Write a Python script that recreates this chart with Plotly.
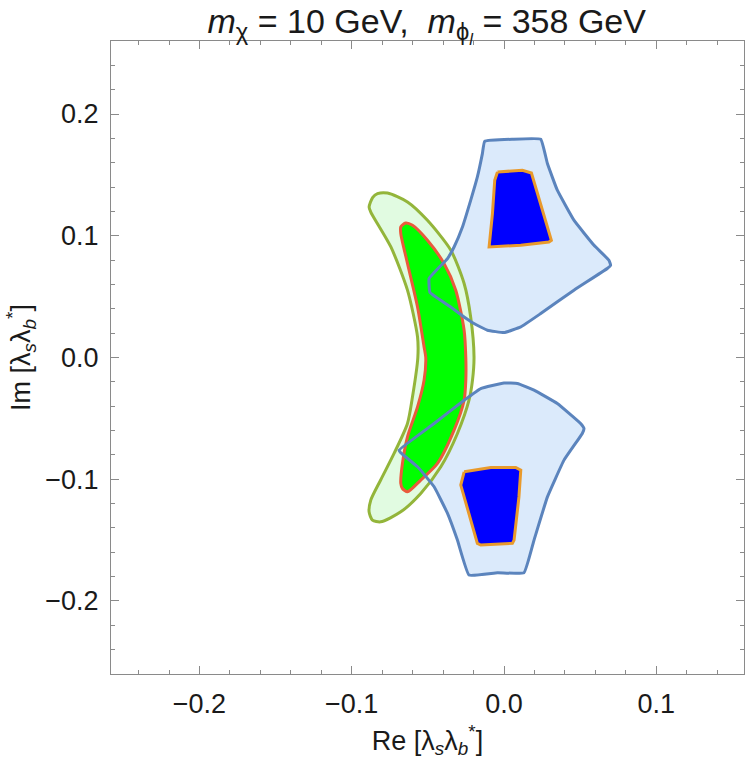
import plotly.graph_objects as go

# ---- data (Re, Im) of the region boundaries ----
blue_top_x = [-0.0127, 0.0055, 0.0241, 0.0285, 0.0350, 0.0459, 0.0591, 0.0689, 0.0700, 0.0678,
              0.0459, 0.0241, 0.0110, 0.0000, -0.0109, -0.0197, -0.0262, -0.0350, -0.0486, -0.0492,
              -0.0371, -0.0328, -0.0273, -0.0219, -0.0175, -0.0142, -0.0127]
blue_top_y = [0.1776, 0.1793, 0.1793, 0.1593, 0.1374, 0.1128, 0.0922, 0.0799, 0.0758, 0.0731,
              0.0553, 0.0361, 0.0251, 0.0205, 0.0224, 0.0279, 0.0333, 0.0415, 0.0534, 0.0649,
              0.0813, 0.0908, 0.1072, 0.1291, 0.1483, 0.1675, 0.1776]

dark_top_x = [-0.0043, 0.0121, 0.0180, 0.0311, 0.0295, 0.0110, -0.0098, -0.0076, -0.0061, -0.0043]
dark_top_y = [0.1524, 0.1538, 0.1516, 0.0963, 0.0949, 0.0922, 0.0908, 0.1182, 0.1456, 0.1524]

blue_bot_x = [0.0000, 0.0088, 0.0197, 0.0350, 0.0503, 0.0525, 0.0514, 0.0394, 0.0285, 0.0197,
              0.0131, -0.0043, -0.0230, -0.0306, -0.0371, -0.0459, -0.0568, -0.0678, -0.0689,
              -0.0459, -0.0262, -0.0153, 0.0000]
blue_bot_y = [-0.0209, -0.0213, -0.0268, -0.0378, -0.0542, -0.0583, -0.0624, -0.0843, -0.1145, -0.1500,
              -0.1768, -0.1768, -0.1787, -0.1500, -0.1281, -0.1062, -0.0898, -0.0783, -0.0761,
              -0.0542, -0.0351, -0.0255, -0.0209]

dark_bot_x = [-0.0262, -0.0087, 0.0077, 0.0110, 0.0098, 0.0066, 0.0055, -0.0153, -0.0175, -0.0284, -0.0262]
dark_bot_y = [-0.0939, -0.0903, -0.0903, -0.0925, -0.1145, -0.1500, -0.1527, -0.1541, -0.1527, -0.1048, -0.0939]

outer_x = [-0.0831, -0.0765, -0.0634, -0.0503, -0.0350, -0.0262, -0.0219, -0.0197, -0.0207, -0.0230,
           -0.0306, -0.0415, -0.0547, -0.0678, -0.0810, -0.0864, -0.0886, -0.0875, -0.0810, -0.0722,
           -0.0634, -0.0601, -0.0566, -0.0568, -0.0634, -0.0743, -0.0875, -0.0886, -0.0862, -0.0831]
outer_y = [0.1346, 0.1351, 0.1278, 0.1127, 0.0883, 0.0608, 0.0333, 0.0005, -0.0186, -0.0351,
           -0.0624, -0.0898, -0.1117, -0.1268, -0.1350, -0.1336, -0.1268, -0.1172, -0.1006, -0.0788,
           -0.0542, -0.0323, 0.0000, 0.0169, 0.0553, 0.0908, 0.1195, 0.1236, 0.1316, 0.1346]

inner_x = [-0.0678, -0.0646, -0.0601, -0.0503, -0.0394, -0.0317, -0.0262, -0.0251, -0.0251, -0.0262,
           -0.0328, -0.0437, -0.0547, -0.0634, -0.0667, -0.0678, -0.0667, -0.0634, -0.0568, -0.0525,
           -0.0514, -0.0525, -0.0568, -0.0634, -0.0678, -0.0678]
inner_y = [0.1072, 0.1105, 0.1086, 0.0963, 0.0772, 0.0553, 0.0224, 0.0000, -0.0186, -0.0351,
           -0.0597, -0.0870, -0.1007, -0.1103, -0.1076, -0.1034, -0.0870, -0.0652, -0.0406, -0.0186,
           0.0000, 0.0087, 0.0415, 0.0772, 0.1018, 0.1072]

x_ticks = [-0.2, -0.1, 0.0, 0.1]
x_labels = ["\u22120.2", "\u22120.1", "0.0", "0.1"]
y_ticks = [-0.2, -0.1, 0.0, 0.1, 0.2]
y_labels = ["\u22120.2", "\u22120.1", "0.0", "0.1", "0.2"]

LB_FILL = "#dbeafb"
LB_LINE = "#5b84bd"
LG_FILL = "#e1fbe1"
LG_LINE = "#93b53a"
G_FILL = "#00ff00"
G_LINE = "#ea5a3c"
DB_FILL = "#0000ff"
DB_LINE = "#e99a2c"
W = 3

fig = go.Figure()

def poly(x, y, fill, line, width=W, show_line=True, shape="linear", smooth=0.7):
    fig.add_trace(go.Scatter(
        x=x, y=y, mode="lines", fill="toself" if fill else None,
        fillcolor=fill,
        line=dict(color=line if show_line else "rgba(0,0,0,0)", width=width,
                  shape=shape, smoothing=smooth if shape == "spline" else None),
        hoverinfo="skip", showlegend=False))

# light blue fills
poly(blue_top_x, blue_top_y, LB_FILL, LB_LINE, show_line=False, shape="spline", smooth=0.3)
poly(blue_bot_x, blue_bot_y, LB_FILL, LB_LINE, show_line=False, shape="spline", smooth=0.3)
# green bands
poly(outer_x, outer_y, LG_FILL, LG_LINE, shape="spline")
poly(inner_x, inner_y, G_FILL, G_LINE, shape="spline")
# light blue outlines on top
poly(blue_top_x, blue_top_y, None, LB_LINE, shape="spline", smooth=0.3)
poly(blue_bot_x, blue_bot_y, None, LB_LINE, shape="spline", smooth=0.3)
# dark blue
poly(dark_top_x, dark_top_y, DB_FILL, DB_LINE)
poly(dark_bot_x, dark_bot_y, DB_FILL, DB_LINE)

FONT = "Liberation Sans"
axis_common = dict(
    showgrid=False, zeroline=False, showline=True, linecolor="#8a8a8a", linewidth=1,
    mirror="ticks", ticks="inside", ticklen=8, tickwidth=1, tickcolor="#8a8a8a",
    tickfont=dict(family=FONT, size=27, color="#1a1a1a"),
)

fig.update_layout(
    width=746, height=767,
    margin=dict(l=111, r=2, t=41, b=93),
    paper_bgcolor="white", plot_bgcolor="white",
    title=dict(
        text="<i>m</i><sub>\u03c7</sub> = 10 GeV,&nbsp; <i>m</i><sub>\u03d5<sub><i>l</i></sub></sub> = 358 GeV",
        x=0.572, xanchor="center", y=1 - 21 / 767, yanchor="middle", yref="container",
        font=dict(family=FONT, size=34, color="#1a1a1a")),
    xaxis=dict(range=[-0.2581, 0.1576], tickvals=x_ticks, ticktext=x_labels,
               minor=dict(dtick=0.02, tick0=0, ticks="inside", ticklen=4, tickcolor="#8a8a8a"),
               ticklabelstandoff=6,
               title=dict(text="Re [\u03bb<sub><i>s</i></sub>\u03bb<sub><i>b</i></sub><sup>*</sup>]",
                          font=dict(family=FONT, size=27, color="#1a1a1a"), standoff=12),
               **axis_common),
    yaxis=dict(range=[-0.26, 0.26], tickvals=y_ticks, ticktext=y_labels,
               minor=dict(dtick=0.02, tick0=0, ticks="inside", ticklen=4, tickcolor="#8a8a8a"),
               ticklabelstandoff=6,
               title=dict(text="Im [\u03bb<sub><i>s</i></sub>\u03bb<sub><i>b</i></sub><sup>*</sup>]",
                          font=dict(family=FONT, size=27, color="#1a1a1a"), standoff=6),
               **axis_common),
)

fig.write_html("out.html")
